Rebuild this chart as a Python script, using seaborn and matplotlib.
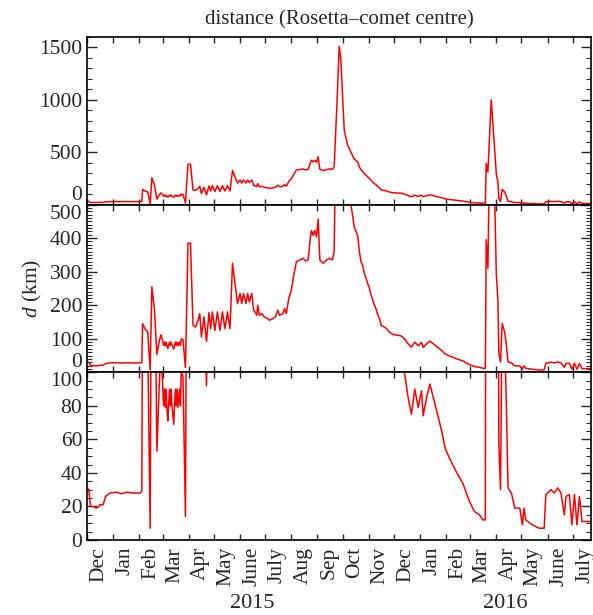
import pandas as pd
import matplotlib
matplotlib.use("Agg")
import matplotlib.pyplot as plt
import matplotlib.dates as mdates
from matplotlib.ticker import MultipleLocator, FuncFormatter
import seaborn as sns

# distance Rosetta - comet centre
dates = [
    "2014-12-01", "2014-12-03", "2014-12-05", "2014-12-08", "2014-12-12", "2014-12-15",
    "2014-12-16", "2014-12-20", "2014-12-23", "2014-12-28", "2015-01-05", "2015-01-11",
    "2015-01-17", "2015-01-24", "2015-02-02", "2015-02-04", "2015-02-05", "2015-02-08",
    "2015-02-11", "2015-02-14", "2015-02-16", "2015-02-19", "2015-02-22", "2015-02-25",
    "2015-02-27", "2015-03-02", "2015-03-03", "2015-03-04", "2015-03-05", "2015-03-06",
    "2015-03-07", "2015-03-09", "2015-03-10", "2015-03-11", "2015-03-12", "2015-03-14",
    "2015-03-16", "2015-03-17", "2015-03-18", "2015-03-19", "2015-03-21", "2015-03-22",
    "2015-03-23", "2015-03-25", "2015-03-28", "2015-03-31", "2015-04-03", "2015-04-06",
    "2015-04-09", "2015-04-12", "2015-04-14", "2015-04-16", "2015-04-19", "2015-04-22",
    "2015-04-25", "2015-04-27", "2015-04-29", "2015-05-02", "2015-05-05", "2015-05-08",
    "2015-05-11", "2015-05-14", "2015-05-17", "2015-05-20", "2015-05-23", "2015-05-27",
    "2015-05-29", "2015-06-01", "2015-06-03", "2015-06-05", "2015-06-08", "2015-06-10",
    "2015-06-12", "2015-06-15", "2015-06-17", "2015-06-19", "2015-06-21", "2015-06-22",
    "2015-06-24", "2015-06-27", "2015-06-30", "2015-07-04", "2015-07-06", "2015-07-10",
    "2015-07-13", "2015-07-16", "2015-07-18", "2015-07-22", "2015-07-24", "2015-07-26",
    "2015-07-29", "2015-08-01", "2015-08-04", "2015-08-07", "2015-08-11", "2015-08-15",
    "2015-08-18", "2015-08-21", "2015-08-24", "2015-08-25", "2015-08-27", "2015-08-29",
    "2015-08-31", "2015-09-02", "2015-09-03", "2015-09-04", "2015-09-08", "2015-09-12",
    "2015-09-15", "2015-09-19", "2015-09-21", "2015-09-24", "2015-09-27", "2015-09-29",
    "2015-10-01", "2015-10-03", "2015-10-07", "2015-10-11", "2015-10-15", "2015-10-17",
    "2015-10-19", "2015-10-21", "2015-10-23", "2015-10-25", "2015-10-27", "2015-10-29",
    "2015-10-31", "2015-11-02", "2015-11-04", "2015-11-06", "2015-11-08", "2015-11-10",
    "2015-11-12", "2015-11-14", "2015-11-16", "2015-11-19", "2015-11-22", "2015-11-25",
    "2015-11-28", "2015-12-01", "2015-12-04", "2015-12-07", "2015-12-10",
    "2015-12-14", "2015-12-18", "2015-12-22", "2015-12-26", "2015-12-30", "2016-01-03",
    "2016-01-05", "2016-01-09", "2016-01-13", "2016-01-17", "2016-01-23", "2016-01-27",
    "2016-01-31", "2016-02-05", "2016-02-13", "2016-02-21", "2016-02-29", "2016-03-06",
    "2016-03-12", "2016-03-16", "2016-03-19", "2016-03-20", "2016-03-22", "2016-03-26",
    "2016-03-29", "2016-04-01", "2016-04-03", "2016-04-04", "2016-04-06", "2016-04-08",
    "2016-04-11", "2016-04-13", "2016-04-15", "2016-04-19", "2016-04-23", "2016-04-29",
    "2016-05-02", "2016-05-04", "2016-05-06", "2016-05-14", "2016-05-22", "2016-05-28",
    "2016-05-30", "2016-06-05", "2016-06-09", "2016-06-13", "2016-06-17", "2016-06-21",
    "2016-06-23", "2016-06-27", "2016-06-30", "2016-07-03", "2016-07-06", "2016-07-09",
    "2016-07-12", "2016-07-17", "2016-07-23",
]
dist_km = [
    31, 30, 20, 20, 19, 20,
    21, 21, 26, 28, 28.5, 27.5,
    28.5, 28, 28, 29, 145, 129,
    121, 7, 255, 190, 53, 95,
    112, 80, 90, 79, 90, 78,
    71, 90, 80, 90, 80, 69,
    90, 80, 90, 79, 90, 80,
    100, 98, 14, 385, 385, 140,
    135, 155, 175, 105, 165, 92,
    178, 130, 180, 125, 180, 125,
    180, 130, 180, 130, 325, 245,
    205, 235, 205, 235, 205, 235,
    210, 235, 185, 180, 170, 200,
    170, 175, 165, 160, 155, 160,
    165, 185, 170, 175, 190, 175,
    220, 245, 290, 329, 335, 340,
    332, 335, 408, 423, 408, 423,
    404, 457, 389, 335, 325, 335,
    340, 335, 360, 900, 1510, 1385,
    1030, 710, 567, 500, 433, 420,
    408, 360, 330, 318, 294, 280,
    264, 250, 230, 215, 200, 188,
    170, 160, 140, 136, 131, 122,
    116, 112, 111, 110, 108,
    99, 85, 75, 90, 79, 89,
    74, 85, 93, 85, 73, 65,
    55, 49, 41, 34, 23, 17,
    15, 12, 12, 395, 310, 1000,
    647, 295, 210, 58, 30, 145,
    120, 80, 31, 28, 19, 19,
    9, 19, 12, 9, 7, 7,
    27, 30, 28, 31, 28, 15,
    26, 27, 9, 27, 9, 26,
    11, 11, 11,
]

month_names = ["Jan", "Feb", "Mar", "Apr", "May", "June",
               "July", "Aug", "Sep", "Oct", "Nov", "Dec"]
panel_ylims = [(0, 1600), (0, 500), (0, 100)]
major_steps = [500, 100, 20]
minor_steps = [100, 10, 5]

df = pd.DataFrame({"date": pd.to_datetime(dates), "d": dist_km})

sns.set_style("ticks")
plt.rcParams["font.family"] = ["Liberation Serif", "DejaVu Serif"]
plt.rcParams["mathtext.fontset"] = "custom"
plt.rcParams["mathtext.rm"] = "Liberation Serif"
plt.rcParams["mathtext.it"] = "Liberation Serif:italic"

fig, axes = plt.subplots(3, 1, figsize=(5.93, 6.15), dpi=100, sharex=True)
fig.subplots_adjust(left=0.147, right=0.997, top=0.94, bottom=0.122, hspace=0)

for ax, ylim, maj, mnr in zip(axes, panel_ylims, major_steps, minor_steps):
    sns.lineplot(data=df, x="date", y="d", ax=ax, color="red", lw=1.1, errorbar=None)
    ax.set_ylim(ylim)
    ax.set_xlabel("")
    ax.set_ylabel("")
    ax.set_yticks(list(range(ylim[0], ylim[1] + 1, maj)))
    ax.yaxis.set_minor_locator(MultipleLocator(mnr))
    ax.tick_params(axis="y", which="major", direction="in", length=7, width=1,
                   left=True, right=True, labelsize=15.5)
    ax.tick_params(axis="y", which="minor", direction="in", length=3.5, width=0.8,
                   left=True, right=True)
    for s in ax.spines.values():
        s.set_linewidth(1.2)
        s.set_color("black")

axes[0].set_xlim(pd.Timestamp("2014-12-01"), pd.Timestamp("2016-07-23"))
for ax in axes:
    ax.xaxis.set_major_locator(mdates.MonthLocator(bymonthday=15))
    ax.xaxis.set_minor_locator(mdates.MonthLocator())
    ax.xaxis.set_major_formatter(FuncFormatter(lambda v, p: month_names[mdates.num2date(v).month - 1]))
    ax.tick_params(axis="x", which="major", length=0, labelsize=15.5, labelrotation=90, pad=5)
    ax.tick_params(axis="x", which="minor", direction="in", length=4, width=1, top=True, bottom=True)

# nudge labels sitting on panel borders
fig.canvas.draw()
for i, ax in enumerate(axes):
    lo, hi = panel_ylims[i]
    for tick in ax.yaxis.get_major_ticks():
        if tick.get_loc() == lo and i < 2:
            tick.label1.set_va("bottom")
        if tick.get_loc() == hi and i > 0:
            tick.label1.set_va("top")

axes[1].set_ylabel(r"$d$ (km)", fontsize=15.5)
axes[0].set_title("distance (Rosetta–comet centre)", fontsize=15, pad=9)

fig.text(252 / 593, 1 - 603 / 615, "2015", ha="center", va="center", fontsize=16)
fig.text(505 / 593, 1 - 603 / 615, "2016", ha="center", va="center", fontsize=16)

fig.savefig("out.png", dpi=100)
